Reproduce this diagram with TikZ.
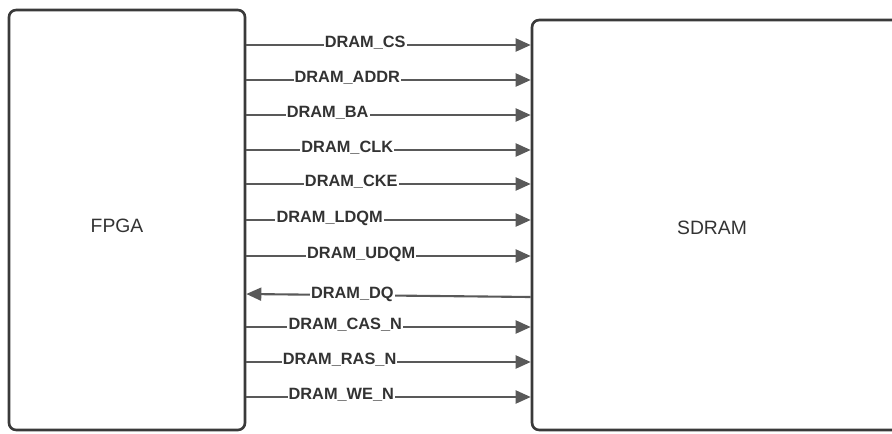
\documentclass[tikz,border=0pt]{standalone}
\usepackage{fontspec}
\setmainfont{Liberation Sans}
\usetikzlibrary{arrows.meta, positioning, calc}
\definecolor{chipline}{HTML}{3A3A3A}
\definecolor{sigline}{HTML}{595959}
\definecolor{sigtext}{HTML}{333333}
\tikzset{
  chipbox/.style  = {draw=chipline, line width=1.5pt, rounded corners=4pt,
                     inner sep=0pt},
  chipname/.style = {font=\fontsize{11}{13}\selectfont, text=sigtext},
  sigarr/.style   = {draw=sigline, line width=1.2pt,
                     -{Triangle[length=3mm, width=2.6mm]}},
  siglbl/.style   = {font=\bfseries\fontsize{9.3}{11}\selectfont, text=sigtext,
                     fill=white, inner sep=0.6pt, anchor=base, yshift=-1.7pt},
}

\begin{document}
\begin{tikzpicture}[x=0.02cm, y=-0.02cm]
        \useasboundingbox (0,0) rectangle (892,433);
        \clip (0,0) rectangle (892,433);

        \node[chipbox, minimum width=4.72cm, minimum height=8.4cm] (fpga) at (127,220) {};
        \node[chipbox, minimum width=8.56cm, minimum height=8.2cm] (sdram) at (746,225) {};
        \node[chipname] (fpgalbl) at (117,226) {FPGA};
        \node[chipname] (sdramlbl) at (712,228) {SDRAM};

        \draw[sigarr] (fpga.east |- 0,45)  -- node[siglbl, pos=0.418] (cs) {DRAM\_CS} (sdram.west |- 0,45);
        \draw[sigarr] (fpga.east |- 0,80)  -- node[siglbl, pos=0.355] (addr) {DRAM\_ADDR} (sdram.west |- 0,80);
        \draw[sigarr] (fpga.east |- 0,115) -- node[siglbl, pos=0.286] (ba) {DRAM\_BA} (sdram.west |- 0,115);
        \draw[sigarr] (fpga.east |- 0,150) -- node[siglbl, pos=0.355] (clk) {DRAM\_CLK} (sdram.west |- 0,150);
        \draw[sigarr] (fpga.east |- 0,184) -- node[siglbl, pos=0.369] (cke) {DRAM\_CKE} (sdram.west |- 0,184);
        \draw[sigarr] (fpga.east |- 0,220) -- node[siglbl, pos=0.293] (ldqm) {DRAM\_LDQM} (sdram.west |- 0,220);
        \draw[sigarr] (fpga.east |- 0,256) -- node[siglbl, pos=0.404] (udqm) {DRAM\_UDQM} (sdram.west |- 0,256);
        \draw[sigarr] (sdram.west |- 0,297) -- node[siglbl, pos=0.627] (dq) {DRAM\_DQ} (fpga.east |- 0,294);
        \draw[sigarr] (fpga.east |- 0,327) -- node[siglbl, pos=0.348] (casn) {DRAM\_CAS\_N} (sdram.west |- 0,327);
        \draw[sigarr] (fpga.east |- 0,362) -- node[siglbl, pos=0.328] (rasn) {DRAM\_RAS\_N} (sdram.west |- 0,362);
        \draw[sigarr] (fpga.east |- 0,397) -- node[siglbl, pos=0.334] (wen) {DRAM\_WE\_N} (sdram.west |- 0,397);
    \end{tikzpicture}
\end{document}
